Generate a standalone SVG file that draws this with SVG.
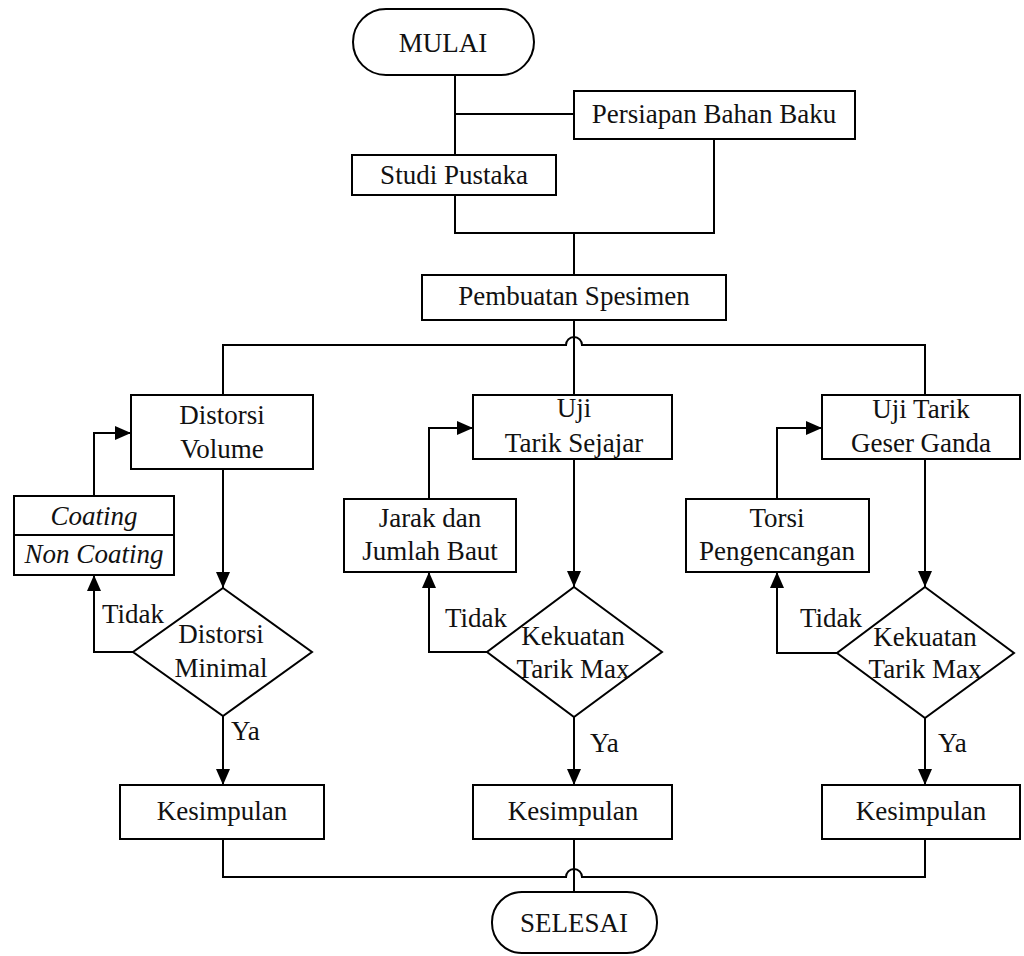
<svg xmlns="http://www.w3.org/2000/svg" width="1024" height="956" viewBox="0 0 1024 956" font-family="Liberation Serif, Times New Roman, DejaVu Serif, serif">
<defs>
<marker id="arr" markerUnits="userSpaceOnUse" markerWidth="16" markerHeight="14" refX="16" refY="7" orient="auto">
<path d="M0,0 L16,7 L0,14 z" fill="#000"/>
</marker>
<style>
.box{fill:#fff;stroke:#000;stroke-width:2}
.ln{fill:none;stroke:#000;stroke-width:2}
.t{font-family:'Liberation Serif','DejaVu Serif',serif;font-size:27px;fill:#111;text-anchor:middle}
.i{font-style:italic}
.l{text-anchor:start}
</style>
</defs>
<rect width="1024" height="956" fill="#fff"/>

<g id="connectors">
<path class="ln" d="M455,75 V155"/>
<path class="ln" d="M455,114 H574"/>
<path class="ln" d="M455,195 V233 H714 V139"/>
<path class="ln" d="M574,233 V275"/>
<path class="ln" d="M574,320 V395"/>
<path class="ln" d="M223,395 V345 H566 A8,8 0 0 1 582,345 H925 V395"/>
<path class="ln" d="M223,469 V588" marker-end="url(#arr)"/>
<path class="ln" d="M574,459 V587" marker-end="url(#arr)"/>
<path class="ln" d="M925,459 V587" marker-end="url(#arr)"/>
<path class="ln" d="M133,652 H94 V575" marker-end="url(#arr)"/>
<path class="ln" d="M94,496 V433 H131" marker-end="url(#arr)"/>
<path class="ln" d="M487,652 H429 V572" marker-end="url(#arr)"/>
<path class="ln" d="M429,499 V428 H473" marker-end="url(#arr)"/>
<path class="ln" d="M837,653 H777 V572" marker-end="url(#arr)"/>
<path class="ln" d="M777,499 V428 H822" marker-end="url(#arr)"/>
<path class="ln" d="M223,716 V785" marker-end="url(#arr)"/>
<path class="ln" d="M574,717 V785" marker-end="url(#arr)"/>
<path class="ln" d="M925,718 V785" marker-end="url(#arr)"/>
<path class="ln" d="M223,839 V877 H566 A8,8 0 0 1 582,877 H925 V839"/>
<path class="ln" d="M574,839 V892"/>
<text class="t l" x="102" y="623">Tidak</text>
<text class="t l" x="445" y="627">Tidak</text>
<text class="t l" x="800" y="627">Tidak</text>
<text class="t l" x="231" y="740">Ya</text>
<text class="t l" x="590" y="752">Ya</text>
<text class="t l" x="938" y="752">Ya</text>
</g>

<g id="mulai">
<rect class="box" x="353" y="9" width="181" height="66" rx="33"/>
<text class="t" x="443" y="52">MULAI</text>
</g>
<g id="persiapan">
<rect class="box" x="574" y="91" width="281" height="48"/>
<text class="t" x="714" y="123">Persiapan Bahan Baku</text>
</g>
<g id="studi">
<rect class="box" x="352" y="155" width="204" height="40"/>
<text class="t" x="454" y="184">Studi Pustaka</text>
</g>
<g id="pembuatan">
<rect class="box" x="422" y="275" width="304" height="45"/>
<text class="t" x="574" y="305">Pembuatan Spesimen</text>
</g>
<g id="distorsi-volume">
<rect class="box" x="131" y="395" width="182" height="74"/>
<text class="t" x="222" y="424">Distorsi</text>
<text class="t" x="222" y="458">Volume</text>
</g>
<g id="uji-sejajar">
<rect class="box" x="473" y="395" width="199" height="64"/>
<text class="t" x="574" y="417">Uji</text>
<text class="t" x="574" y="452">Tarik Sejajar</text>
</g>
<g id="uji-geser">
<rect class="box" x="822" y="395" width="198" height="64"/>
<text class="t" x="921" y="418">Uji Tarik</text>
<text class="t" x="921" y="452">Geser Ganda</text>
</g>
<g id="coating">
<rect class="box" x="14" y="496" width="160" height="79"/>
<path class="ln" d="M14,535 H174"/>
<text class="t i" x="94" y="525">Coating</text>
<text class="t i" x="94" y="563">Non Coating</text>
</g>
<g id="jarak">
<rect class="box" x="344" y="499" width="172" height="73"/>
<text class="t" x="430" y="527">Jarak dan</text>
<text class="t" x="430" y="560">Jumlah Baut</text>
</g>
<g id="torsi">
<rect class="box" x="686" y="499" width="183" height="73"/>
<text class="t" x="777" y="527">Torsi</text>
<text class="t" x="777" y="560">Pengencangan</text>
</g>
<g id="distorsi-minimal">
<path class="box" d="M223,588 L312,652 L223,716 L133,652 z"/>
<text class="t" x="221" y="643">Distorsi</text>
<text class="t" x="221" y="677">Minimal</text>
</g>
<g id="kekuatan-1">
<path class="box" d="M574,587 L662,652 L574,717 L487,652 z"/>
<text class="t" x="573" y="645">Kekuatan</text>
<text class="t" x="573" y="678">Tarik Max</text>
</g>
<g id="kekuatan-2">
<path class="box" d="M925,587 L1014,653 L925,718 L837,653 z"/>
<text class="t" x="925" y="646">Kekuatan</text>
<text class="t" x="925" y="678">Tarik Max</text>
</g>
<g id="kesimpulan-1">
<rect class="box" x="120" y="785" width="204" height="54"/>
<text class="t" x="222" y="820">Kesimpulan</text>
</g>
<g id="kesimpulan-2">
<rect class="box" x="473" y="785" width="199" height="54"/>
<text class="t" x="573" y="820">Kesimpulan</text>
</g>
<g id="kesimpulan-3">
<rect class="box" x="822" y="785" width="198" height="54"/>
<text class="t" x="921" y="820">Kesimpulan</text>
</g>
<g id="selesai">
<rect class="box" x="492" y="892" width="165" height="61" rx="30"/>
<text class="t" x="574" y="932">SELESAI</text>
</g>
</svg>
